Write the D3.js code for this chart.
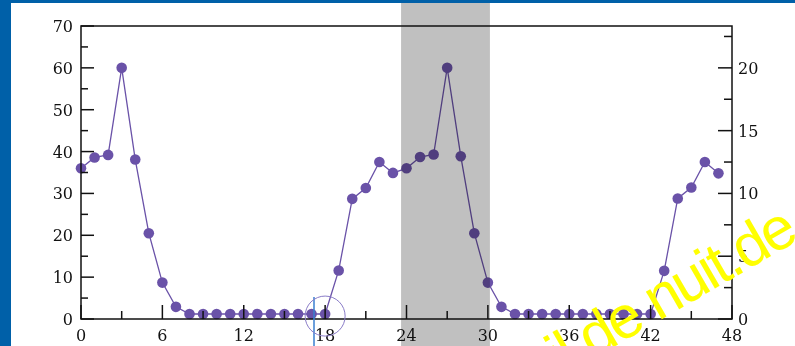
<!DOCTYPE html>
<html>
<head>
<meta charset="utf-8">
<script src="https://cdn.jsdelivr.net/npm/d3@7"></script>
<style>
  html, body { margin: 0; padding: 0; background: #ffffff; }
  svg { display: block; }
</style>
</head>
<body>
<div id="chart"></div>
<script>
// hours (x) and values, left scale 0-70
const hours = d3.range(0, 48);
const values = [
  36, 38.6, 39.2, 60, 38.1, 20.5, 8.7, 2.9, 1.2, 1.2, 1.2, 1.2,
  1.2, 1.2, 1.2, 1.2, 1.2, 1.2, 1.2, 11.6, 28.7, 31.3, 37.5, 34.9,
  36, 38.7, 39.3, 60, 38.9, 20.5, 8.7, 2.9, 1.2, 1.2, 1.2, 1.2,
  1.2, 1.2, 1.2, 1.2, 1.2, 1.2, 1.2, 11.5, 28.8, 31.4, 37.5, 34.8
];
const xTicks = [0, 6, 12, 18, 24, 30, 36, 42, 48];
const yLeftTicks = [0, 10, 20, 30, 40, 50, 60, 70];
const yRightTicks = [0, 5, 10, 15, 20];
const band = [23.6, 30.15];
const marker = { x: 18, y: 0.7 };
const cursorX = 17.18;
const watermark = "il de nuit.de";

const W = 795, H = 346;
const svg = d3.select('#chart').append('svg')
  .attr('width', W).attr('height', H);

const x = d3.scaleLinear().domain([0, 48]).range([81, 732]);
const y = d3.scaleLinear().domain([0, 70]).range([319, 26]);
const yR = d3.scaleLinear().domain([0, 70 / 3]).range([319, 26]);

// blue frame
svg.append('rect').attr('x', 0).attr('y', 0).attr('width', W).attr('height', 3).attr('fill', '#0060a8');
svg.append('rect').attr('x', 0).attr('y', 0).attr('width', 11).attr('height', H).attr('fill', '#0060a8');

// series
const purple = '#6a52a8';
svg.append('path')
  .datum(values)
  .attr('fill', 'none')
  .attr('stroke', purple)
  .attr('stroke-width', 1.3)
  .attr('d', d3.line().x((d, i) => x(hours[i])).y(d => y(d)));

svg.append('g').selectAll('circle')
  .data(values)
  .join('circle')
  .attr('cx', (d, i) => x(hours[i]))
  .attr('cy', d => y(d))
  .attr('r', 5.3)
  .attr('fill', purple);

// grey band
svg.append('rect')
  .attr('x', x(band[0])).attr('y', 3)
  .attr('width', x(band[1]) - x(band[0]))
  .attr('height', H - 3)
  .attr('fill', '#c0c0c0')
  .style('mix-blend-mode', 'multiply');

// frame and ticks
const ax = svg.append('g').attr('stroke', '#111').attr('stroke-width', 1.5).attr('fill', 'none');
ax.append('rect')
  .attr('x', x(0)).attr('y', y(70))
  .attr('width', x(48) - x(0)).attr('height', y(0) - y(70));

const xAll = d3.range(0, 49, 3);
ax.selectAll('.xt').data(xAll).join('line')
  .attr('x1', d => x(d)).attr('x2', d => x(d))
  .attr('y1', y(0)).attr('y2', d => y(0) - (d % 6 === 0 ? 14 : 8));

const yAll = d3.range(0, 71, 5);
ax.selectAll('.yl').data(yAll).join('line')
  .attr('y1', d => y(d)).attr('y2', d => y(d))
  .attr('x1', x(0)).attr('x2', d => x(0) + (d % 10 === 0 ? 13 : 7));

const rAll = d3.range(0, 23, 2.5);
ax.selectAll('.yr').data(rAll).join('line')
  .attr('y1', d => yR(d)).attr('y2', d => yR(d))
  .attr('x1', x(48)).attr('x2', d => x(48) - (d % 5 === 0 ? 14 : 8));

// tick labels
const font = "'DejaVu Serif', serif";
const lab = svg.append('g')
  .attr('font-family', font).attr('font-size', 16).attr('fill', '#111');

lab.selectAll('.xl').data(xTicks).join('text')
  .attr('x', d => x(d)).attr('y', 341)
  .attr('text-anchor', 'middle')
  .text(d => d);

lab.selectAll('.yll').data(yLeftTicks).join('text')
  .attr('x', 73).attr('y', d => y(d) + 6)
  .attr('text-anchor', 'end')
  .text(d => d);

lab.selectAll('.yrl').data(yRightTicks).join('text')
  .attr('x', 738).attr('y', d => yR(d) + 6)
  .attr('text-anchor', 'start')
  .text(d => d);

// annotation: cursor line and circle
svg.append('line')
  .attr('x1', x(cursorX)).attr('x2', x(cursorX))
  .attr('y1', 297).attr('y2', H)
  .attr('stroke', '#3a7fd0').attr('stroke-width', 1.5);
svg.append('circle')
  .attr('cx', x(marker.x)).attr('cy', y(marker.y)).attr('r', 20)
  .attr('fill', 'none').attr('stroke', '#8a7cc8').attr('stroke-width', 1);

// watermark
svg.append('text')
  .attr('transform', 'translate(799,240) rotate(-30)')
  .attr('text-anchor', 'end')
  .attr('font-family', "'Liberation Sans', Arial, sans-serif")
  .attr('font-size', 60)
  .attr('letter-spacing', -2.5)
  .attr('fill', '#ffff00')
  .text(watermark);
</script>
</body>
</html>
